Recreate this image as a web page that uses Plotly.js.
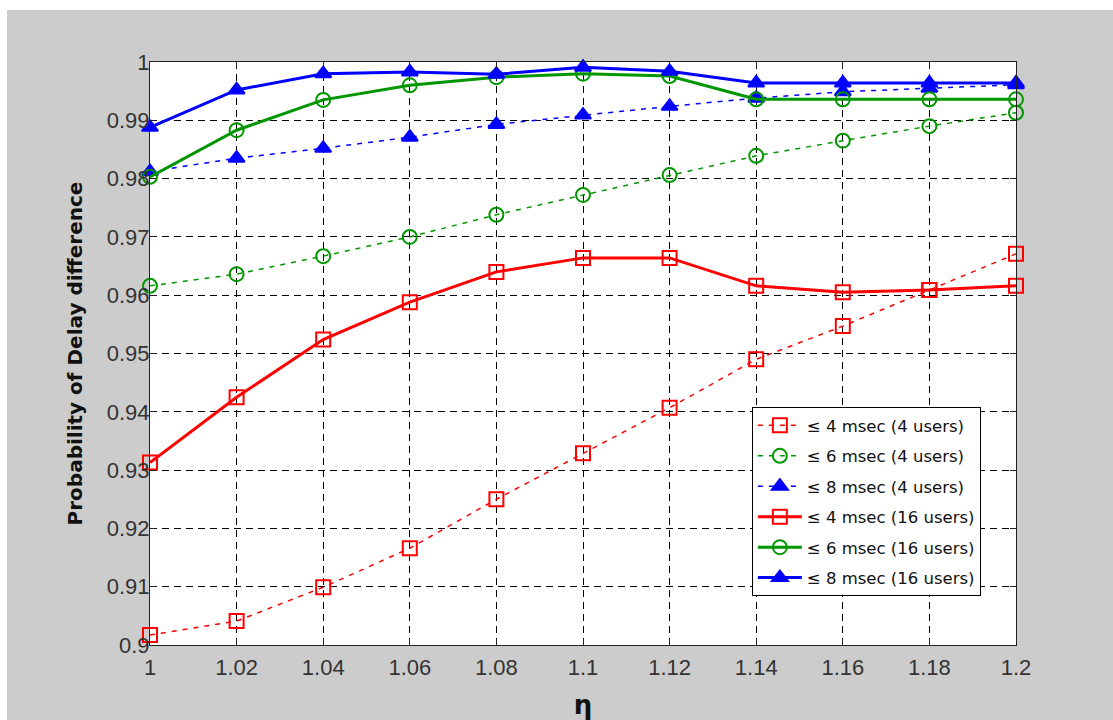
<!DOCTYPE html>
<html>
<head>
<meta charset="utf-8">
<script src="https://cdn.plot.ly/plotly-3.0.1.min.js"></script>
<style>
html,body{margin:0;padding:0;background:#ffffff;width:1113px;height:720px;overflow:hidden;}
#chart{position:absolute;left:7px;top:10px;width:1106px;height:710px;}
</style>
</head>
<body>
<div id="chart"></div>
<script>
// eta values
const eta = [1, 1.02, 1.04, 1.06, 1.08, 1.1, 1.12, 1.14, 1.16, 1.18, 1.2];

// 4 users (dashed)
const d4_4users = [0.9017, 0.9041, 0.9099, 0.9166, 0.9250, 0.9329, 0.9407, 0.9490, 0.9547, 0.9609, 0.9671];
const d6_4users = [0.9616, 0.9636, 0.9667, 0.9700, 0.9738, 0.9772, 0.9806, 0.9839, 0.9865, 0.9890, 0.9913];
const d8_4users = [0.9812, 0.9835, 0.9852, 0.9871, 0.9893, 0.9909, 0.9924, 0.9938, 0.9949, 0.9955, 0.9961];

// 16 users (solid)
const d4_16users = [0.9313, 0.9425, 0.9524, 0.9588, 0.9640, 0.9664, 0.9664, 0.9616, 0.9605, 0.9609, 0.9616];
const d6_16users = [0.9803, 0.9883, 0.9935, 0.9960, 0.9974, 0.9980, 0.9976, 0.9936, 0.9936, 0.9936, 0.9936];
const d8_16users = [0.9888, 0.9952, 0.9980, 0.9983, 0.9979, 0.9991, 0.9984, 0.9964, 0.9964, 0.9964, 0.9964];

const names = [
  "\u2264 4 msec (4 users)",
  "\u2264 6 msec (4 users)",
  "\u2264 8 msec (4 users)",
  "\u2264 4 msec (16 users)",
  "\u2264 6 msec (16 users)",
  "\u2264 8 msec (16 users)"
];
const xTicks = [1, 1.02, 1.04, 1.06, 1.08, 1.1, 1.12, 1.14, 1.16, 1.18, 1.2];
const xTickText = ["1", "1.02", "1.04", "1.06", "1.08", "1.1", "1.12", "1.14", "1.16", "1.18", "1.2"];
const yTicks = [0.9, 0.91, 0.92, 0.93, 0.94, 0.95, 0.96, 0.97, 0.98, 0.99, 1];
const yTickText = ["0.9", "0.91", "0.92", "0.93", "0.94", "0.95", "0.96", "0.97", "0.98", "0.99", "1"];

const RED = '#ff0000', GREEN = '#009600', BLUE = '#0000ff';

function tr(y, name, color, symbol, dashed, group) {
  return {
    x: eta, y: y, name: name, type: 'scatter', mode: 'lines+markers',
    legendgroup: group,
    line: {color: color, width: dashed ? 1.5 : 3, dash: dashed ? '5px,6px' : 'solid'},
    marker: {
      symbol: symbol, size: 14,
      color: color,
      line: {color: color, width: 2}
    },
    cliponaxis: false
  };
}

const data = [
  tr(d4_4users, names[0], RED, 'square-open', true, 'g1'),
  tr(d6_4users, names[1], GREEN, 'circle-open', true, 'g2'),
  tr(d8_4users, names[2], BLUE, 'triangle-up', true, 'g3'),
  tr(d4_16users, names[3], RED, 'square-open', false, 'g4'),
  tr(d6_16users, names[4], GREEN, 'circle-open', false, 'g5'),
  tr(d8_16users, names[5], BLUE, 'triangle-up', false, 'g6')
];

const axisCommon = {
  showline: true, linecolor: '#222222', linewidth: 1, mirror: 'ticks',
  ticks: 'inside', ticklen: 6, tickcolor: '#222222', tickwidth: 1,
  showgrid: true, gridcolor: '#000000', gridwidth: 1, griddash: '7px,5px',
  zeroline: false, fixedrange: true,
  tickfont: {family: 'Liberation Sans, Arial, sans-serif', size: 22, color: '#333333'}
};

const layout = {
  width: 1106, height: 710,
  paper_bgcolor: '#cccccc', plot_bgcolor: '#ffffff',
  margin: {l: 143, r: 97, t: 52, b: 75},
  showlegend: true,
  legend: {
    x: 0.695, xanchor: 'left', y: 0.408, yanchor: 'top',
    bgcolor: '#ffffff', bordercolor: '#000000', borderwidth: 1,
    font: {family: 'DejaVu Sans, Tahoma, sans-serif', size: 16.5, color: '#111111'},
    itemwidth: 44, tracegroupgap: 6, entrywidth: 200
  },
  xaxis: Object.assign({}, axisCommon, {
    range: [1, 1.2], tickvals: xTicks, ticktext: xTickText,
    ticklabelstandoff: 3,
    title: {text: '<b>\u03b7</b>', font: {family: 'DejaVu Sans, sans-serif', size: 26, color: '#111111'}, standoff: 18}
  }),
  yaxis: Object.assign({}, axisCommon, {
    range: [0.9, 1], tickvals: yTicks, ticktext: yTickText,
    ticklabelstandoff: -5,
    title: {text: '<b>Probability of Delay difference</b>', font: {family: 'DejaVu Sans, sans-serif', size: 20, color: '#111111'}, standoff: 18}
  })
};

Plotly.newPlot('chart', data, layout, {displayModeBar: false, staticPlot: true});
</script>
</body>
</html>
